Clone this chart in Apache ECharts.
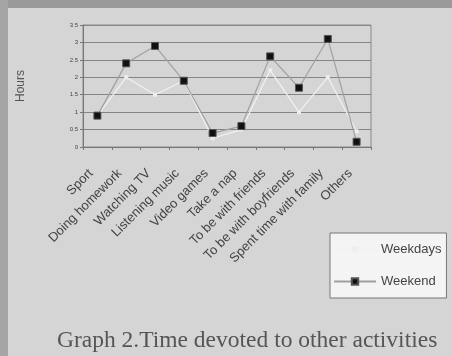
<!DOCTYPE html>
<html><head><meta charset="utf-8">
<script src="https://cdn.jsdelivr.net/npm/echarts@6/dist/echarts.min.js"></script>
<style>html,body{margin:0;padding:0;background:#d5d5d5;}#c{width:452px;height:356px;}</style>
</head><body><div id="c"></div>
<script>
const categories = ["Sport","Doing homework","Watching TV","Listening music","Video games","Take a nap","To be with friends","To be with boyfriends","Spent time with family","Others"];
const weekdays = [0.9, 2.0, 1.5, 1.9, 0.25, 0.5, 2.2, 1.0, 2.0, 0.45];
const weekend = [0.9, 2.4, 2.9, 1.9, 0.4, 0.6, 2.6, 1.7, 3.1, 0.15];
const yTicks = ["0","0.5","1","1.5","2","2.5","3","3.5"];

const chart = echarts.init(document.getElementById('c'));
chart.setOption({
  backgroundColor: '#d5d5d5',
  animation: false,
  graphic: [
    {type:'rect', shape:{x:0,y:0,width:452,height:8}, style:{fill:'#9a9a9a'}},
    {type:'rect', shape:{x:0,y:0,width:8,height:356}, style:{fill:'#a5a5a5'}},
    {type:'text', left: 57, top: 329, style:{text:'Graph 2.Time devoted to other activities', font:'23.5px "Liberation Serif"', fill:'#555'}}
  ],
  grid: {left: 83, right: 81, top: 25, bottom: 209, show: true, borderColor: '#8a8a8a', borderWidth: 1, backgroundColor: 'transparent'},
  legend: {
    orient: 'vertical', left: 330, top: 233, width: 110, backgroundColor: '#f4f4f4', borderColor: '#777', borderWidth: 1,
    padding: [10, 5, 10, 3], itemGap: 19, itemWidth: 42, itemHeight: 8,
    textStyle: {fontFamily: 'Liberation Sans', fontSize: 13, color: '#444'},
    data: [{name:'Weekdays'}, {name:'Weekend'}]
  },
  xAxis: {
    type: 'category', data: categories, boundaryGap: true,
    axisLine: {lineStyle: {color: '#777'}},
    axisTick: {show: true, lineStyle: {color: '#777'}, length: 3},
    axisLabel: {rotate: 45, fontFamily: 'Liberation Sans', fontSize: 13, color: '#444', margin: 18, interval: 0, padding: [0, 9, 0, 0]}
  },
  yAxis: {
    type: 'value', min: 0, max: 3.5, interval: 0.5,
    name: 'Hours', nameLocation: 'middle', nameGap: 56, nameRotate: 90,
    nameTextStyle: {fontFamily: 'Liberation Sans', fontSize: 12, color: '#555'},
    axisLine: {show: true, lineStyle: {color: '#777'}},
    axisTick: {show: true, lineStyle: {color: '#777'}, length: 3},
    axisLabel: {fontFamily: 'Liberation Sans', fontSize: 6, color: '#444', margin: 5,
      formatter: (v) => yTicks[Math.round(v * 2)]},
    splitLine: {lineStyle: {color: '#858585', width: 1.2}}
  },
  series: [
    {name: 'Weekdays', type: 'line', data: weekdays, symbol: 'rect', symbolSize: 4,
     lineStyle: {color: '#f2f2f2', width: 1.2}, itemStyle: {color: '#eeeeee'}, z: 2},
    {name: 'Weekend', type: 'line', data: weekend, symbol: 'rect', symbolSize: 7,
     lineStyle: {color: '#a0a0a0', width: 1.2}, itemStyle: {color: '#111', borderColor: '#555', borderWidth: 1}, z: 3}
  ]
});
</script></body></html>
